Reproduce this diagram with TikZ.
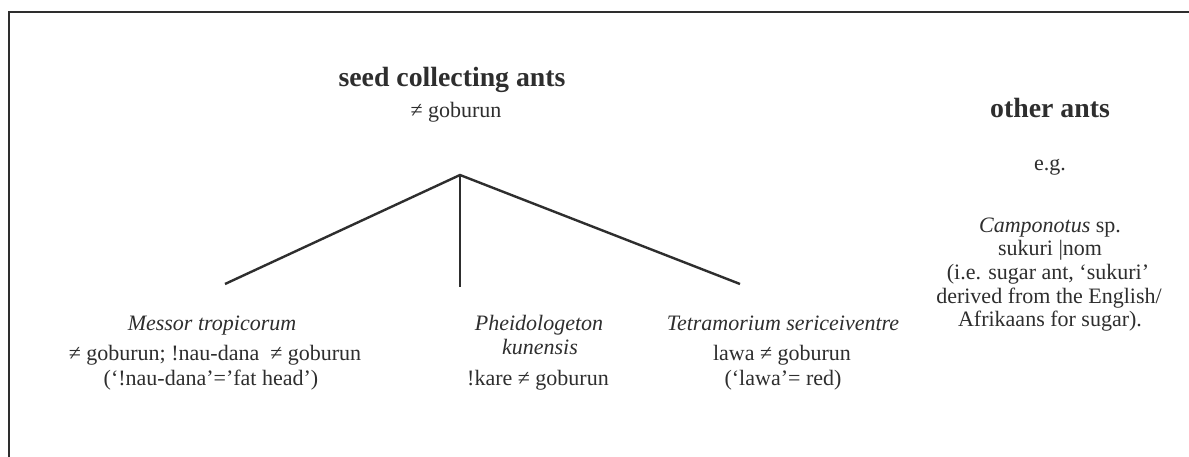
\documentclass[tikz,border=0pt]{standalone}
\usepackage{fontspec}
\setmainfont{Liberation Serif}
\begin{document}
\begin{tikzpicture}[x=1pt,y=-1pt,
  txt/.style={text=ink, font=\fontsize{22}{25}\selectfont, inner sep=0pt, anchor=base},
  head/.style={text=ink, font=\fontsize{27.8}{30}\selectfont\bfseries, inner sep=0pt, anchor=base},
  branch/.style={draw=ink, line width=2.4pt}]
\definecolor{ink}{HTML}{2E2E2E}
\useasboundingbox (0,0) rectangle (1189,457);
\fill[white] (0,0) rectangle (1189,457);
% frame
\draw[ink, line width=2pt] (9,457) -- (9,12) -- (1189,12);
% headings
\node[head] (seed) at (452,87) {seed collecting ants};
\node[txt] (sg) at (456,118) {≠ goburun};
\node[head] (other) at (1050,118) {other ants};
% tree
\coordinate (apex) at (460,175);
\coordinate (lend) at (225,284);
\coordinate (mend) at (460,287);
\coordinate (rend) at (740,284);
\draw[branch] (lend) -- (apex) -- (rend);
\draw[branch] (apex) -- (mend);
% leaves
\node[txt] (m1) at (212,330) {\itshape Messor tropicorum};
\node[txt] (m2) at (215,360) {≠ goburun; !nau-dana\enspace≠ goburun};
\node[txt] (m3) at (211,385) {(‘!nau-dana’=’fat head’)};
\node[txt] (p1) at (539,330) {\itshape Pheidologeton};
\node[txt] (p2) at (540,354) {\itshape kunensis};
\node[txt] (p3) at (538,385) {!kare ≠ goburun};
\node[txt] (t1) at (783,330) {\itshape Tetramorium sericeiventre};
\node[txt] (t2) at (782,360) {lawa ≠ goburun};
\node[txt] (t3) at (783,385) {(‘lawa’= red)};
% other ants
\node[txt] (eg) at (1050,171) {e.g.};
\node[txt] (c1) at (1050,233) {\itshape Camponotus\upshape{} sp.};
\node[txt] (c2) at (1050,256) {sukuri |nom};
\node[txt] (c3) at (1048,279.5) {(i.e. sugar ant, ‘sukuri’};
\node[txt] (c4) at (1049,303) {derived from the English/};
\node[txt] (c5) at (1050,326) {Afrikaans for sugar).};
\end{tikzpicture}
\end{document}
